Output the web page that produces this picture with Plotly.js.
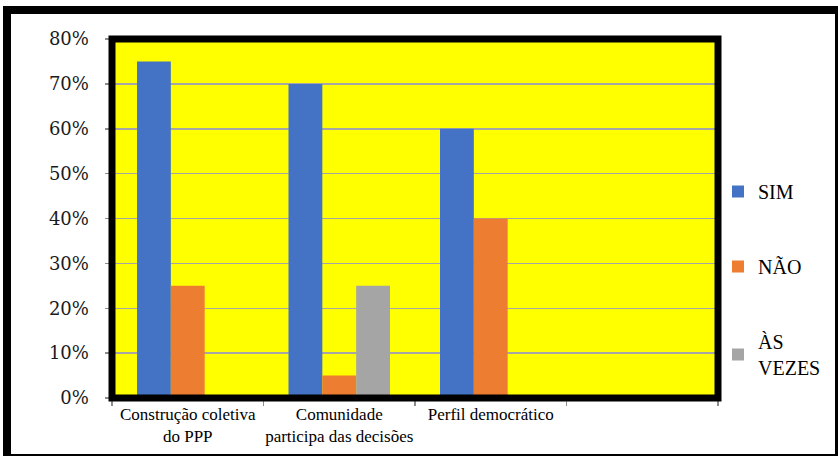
<!DOCTYPE html>
<html>
<head>
<meta charset="utf-8">
<script src="https://cdn.plot.ly/plotly-3.0.1.min.js"></script>
<style>
  html, body { margin: 0; padding: 0; background: #ffffff; }
  #chart { width: 838px; height: 456px; }
</style>
</head>
<body>
<div id="chart"></div>
<script>
// ---- data ----
const categories = ["Construção coletiva<br>do PPP", "Comunidade<br>participa das decisões", "Perfil democrático", " "];
const seriesNames = ["SIM", "NÃO", "ÀS<br>VEZES"];
const simValues = [75, 70, 60, null];
const naoValues = [25, 5, 40, null];
const asVezesValues = [0, 25, 0, null];
const yTickValues = [0, 10, 20, 30, 40, 50, 60, 70, 80];
const yTickLabels = ["0%", "10%", "20%", "30%", "40%", "50%", "60%", "70%", "80%"];

const colors = ["#4472C4", "#ED7D31", "#A5A5A5"];
const allValues = [simValues, naoValues, asVezesValues];

const traces = allValues.map((vals, i) => ({
  type: "bar",
  x: categories,
  y: vals,
  name: seriesNames[i],
  legendgroup: "g" + i,
  marker: { color: colors[i], line: { width: 0 } },
  hoverinfo: "skip"
}));

// pixel helpers for frame placement (plot area px: x 112..718, y 39..398)
const L = 112, R = 718, T = 39, B = 398;
const px = v => (v - L) / (R - L);
const py = v => (B - v) / (B - T);

const layout = {
  width: 838,
  height: 456,
  margin: { l: L, r: 838 - R, t: T, b: 456 - B, pad: 0, autoexpand: false },
  paper_bgcolor: "#ffffff",
  plot_bgcolor: "#FFFF00",
  font: { family: "Liberation Serif", color: "#000000" },
  barmode: "group",
  bargap: 0.33,
  bargroupgap: 0,
  showlegend: true,
  legend: {
    x: px(718), xanchor: "left",
    y: py(172), yanchor: "top",
    traceorder: "grouped",
    tracegroupgap: 46,
    bgcolor: "rgba(0,0,0,0)",
    font: { family: "Liberation Serif", size: 20, color: "#000000" }
  },
  xaxis: {
    type: "category",
    categoryorder: "array",
    categoryarray: categories,
    range: [-0.5, 3.5],
    showgrid: false,
    showline: true,
    linecolor: "#8c8c8c",
    linewidth: 1.5,
    ticks: "outside",
    tickson: "boundaries",
    ticklen: 6,
    tickcolor: "#8c8c8c",
    tickwidth: 1.5,
    tickangle: 0,
    tickfont: { family: "Liberation Serif", size: 17, color: "#000000" },
    fixedrange: true
  },
  yaxis: {
    range: [0, 80],
    tickvals: yTickValues,
    ticktext: yTickLabels,
    showgrid: true,
    gridcolor: "#a6a6a6",
    gridwidth: 1.5,
    zeroline: false,
    showline: true,
    linecolor: "#8c8c8c",
    linewidth: 1.5,
    ticks: "outside",
    ticklen: 6,
    tickcolor: "#8c8c8c",
    tickwidth: 1.5,
    ticklabelstandoff: 12,
    tickfont: { family: "DejaVu Serif", size: 18, color: "#1a1a1a" },
    fixedrange: true
  },
  shapes: [
    { type: "rect", xref: "paper", yref: "paper", x0: 0, x1: 1, y0: 0, y1: 1,
      line: { color: "#000000", width: 7 }, fillcolor: "rgba(0,0,0,0)", layer: "above" },
    { type: "rect", xref: "paper", yref: "paper",
      x0: px(7), x1: px(839), y0: py(458), y1: py(10),
      line: { color: "#000000", width: 8 }, fillcolor: "rgba(0,0,0,0)", layer: "above" }
  ]
};

Plotly.newPlot("chart", traces, layout, { displayModeBar: false, staticPlot: true });
</script>
</body>
</html>
